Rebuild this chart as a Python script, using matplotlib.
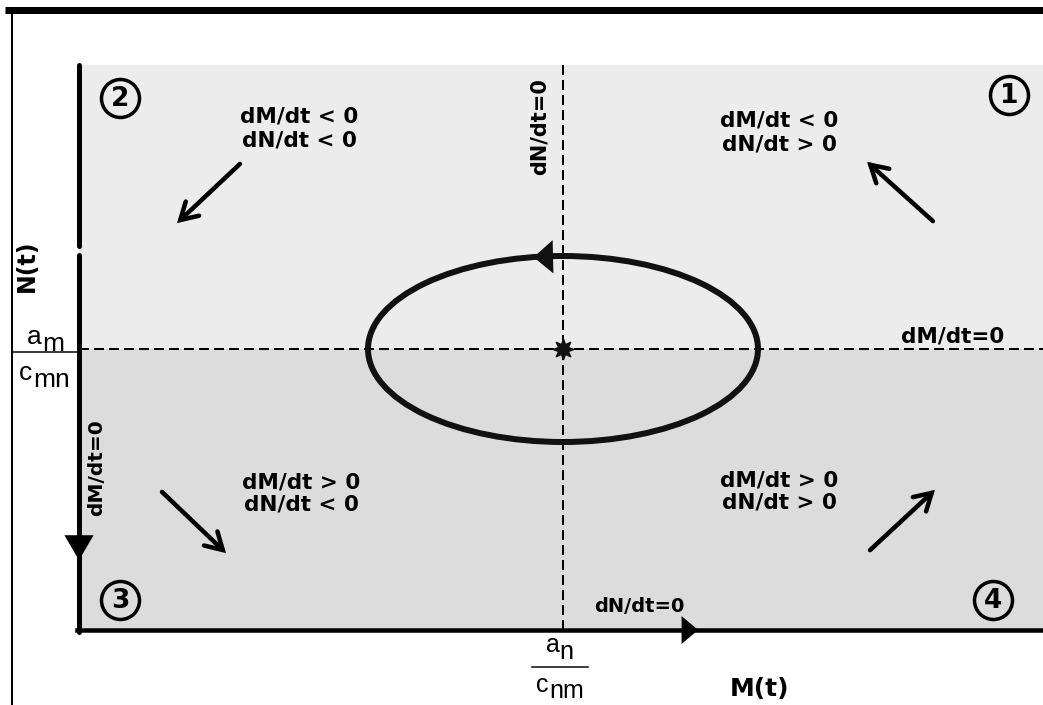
import numpy as np
import matplotlib
matplotlib.use("Agg")
import matplotlib.pyplot as plt
from matplotlib.patches import Ellipse, Rectangle, FancyArrowPatch

# ---------------- diagram values (image coordinates, px) ----------------
W, H = 1043, 705
plot_left, plot_top, plot_right, plot_bottom = 79, 65, 1043, 630
eq_M, eq_N = 563, 349                  # equilibrium (a_n/c_nm , a_m/c_mn)
orbit_rx, orbit_ry = 195, 93           # closed orbit half-axes

quad_ids = ["①", "②", "③", "④"]
quad_id_x = [1009, 120, 120, 993]
quad_id_y = [95, 98, 600, 600]

quad_dM = ["dM/dt < 0", "dM/dt < 0", "dM/dt > 0", "dM/dt > 0"]
quad_dN = ["dN/dt > 0", "dN/dt < 0", "dN/dt < 0", "dN/dt > 0"]
quad_text_x = [779, 299, 301, 779]
quad_line1_y = [120, 117, 482, 480]
quad_line2_y = [144, 140, 505, 503]

flow_tail = [(935, 223), (242, 162), (160, 490), (868, 552)]
flow_tip = [(865, 160), (175, 225), (228, 555), (937, 488)]

fig = plt.figure(figsize=(W / 100, H / 100), dpi=100)
ax = fig.add_axes([0, 0, 1, 1])
ax.set_xlim(0, W)
ax.set_ylim(H, 0)
ax.axis("off")

PX = 0.72  # points per pixel at dpi 100
bold = dict(family="DejaVu Sans", fontweight="bold", color="black")
reg = dict(family="Liberation Sans", color="black")

# frame of the scan
ax.plot([5, W], [10, 10], color="black", lw=7 * PX, solid_capstyle="butt", zorder=5)
ax.plot([12, 12], [13, H], color="black", lw=2 * PX, zorder=5)

# fraction labels (drawn below the shaded region so they get cut by it)
ax.text(27, 337, "a", fontsize=19, va="center", ha="left", zorder=1, **reg)
ax.text(42, 344, "m", fontsize=19, va="center", ha="left", zorder=1, **reg)
ax.plot([13, 78], [352, 352], color="black", lw=1.5 * PX, zorder=1)
ax.text(19, 373, "c", fontsize=19, va="center", ha="left", zorder=1, **reg)
ax.text(33, 380, "mn", fontsize=19, va="center", ha="left", zorder=1, **reg)

ax.text(546, 645, "a", fontsize=18, va="center", ha="left", zorder=1, **reg)
ax.text(559, 652, "n", fontsize=18, va="center", ha="left", zorder=1, **reg)
ax.plot([532, 588], [667, 667], color="black", lw=1.5 * PX, zorder=1)
ax.text(536, 685, "c", fontsize=18, va="center", ha="left", zorder=1, **reg)
ax.text(549, 691, "nm", fontsize=18, va="center", ha="left", zorder=1, **reg)

# shaded (speckled) phase-plane area
ax.add_patch(Rectangle((plot_left, plot_top), plot_right - plot_left, eq_N - plot_top,
                       facecolor="#ececec", edgecolor="none", zorder=2))
ax.add_patch(Rectangle((plot_left, eq_N), plot_right - plot_left, plot_bottom - eq_N,
                       facecolor="#dcdcdc", edgecolor="none", zorder=2))

# nullclines (dashed)
ax.plot([plot_left, plot_right], [eq_N, eq_N], color="black", lw=2 * PX,
        dashes=(5, 2.5), zorder=3)
ax.plot([eq_M, eq_M], [plot_top, plot_bottom], color="black", lw=2 * PX,
        dashes=(5, 2.5), zorder=3)

# axes (thick) with the little scan break on the N axis
ax.plot([plot_left, plot_left], [plot_top, 246], color="black", lw=5 * PX,
        solid_capstyle="round", zorder=4)
ax.plot([plot_left, plot_left], [255, plot_bottom + 2], color="black", lw=5 * PX,
        solid_capstyle="round", zorder=4)
ax.plot([plot_left - 2, plot_right], [plot_bottom, plot_bottom], color="black",
        lw=4.5 * PX, zorder=4)

# axis arrowheads
ax.add_patch(FancyArrowPatch((plot_left, 530), (plot_left, 563),
                             arrowstyle="-|>,head_length=18,head_width=10.5",
                             mutation_scale=1, color="black", lw=0, zorder=6))
ax.add_patch(FancyArrowPatch((675, plot_bottom), (701, plot_bottom),
                             arrowstyle="-|>,head_length=12,head_width=10",
                             mutation_scale=1, color="black", lw=0, zorder=6))

# closed orbit
ax.add_patch(Ellipse((eq_M, eq_N), 2 * orbit_rx, 2 * orbit_ry, fill=False,
                     edgecolor="#111111", lw=6 * PX, zorder=5))
# direction arrow on the orbit (leftwards at the top)
t0, t1 = np.deg2rad(86), np.deg2rad(99.5)
p0 = (eq_M + orbit_rx * np.cos(t0), eq_N - orbit_ry * np.sin(t0))
p1 = (eq_M + orbit_rx * np.cos(t1), eq_N - orbit_ry * np.sin(t1))
ax.add_patch(FancyArrowPatch(p0, p1, arrowstyle="-|>,head_length=14,head_width=12",
                             mutation_scale=1, color="#111111", lw=0, zorder=6))

# equilibrium star
ax.plot([eq_M], [eq_N], marker=(8, 1, 0), markersize=15, color="#111111", zorder=6)

# quadrant numbers
for s, x, y in zip(quad_ids, quad_id_x, quad_id_y):
    ax.plot([x], [y], marker="o", markersize=38 * PX, mfc="none", mec="black",
            mew=3.5 * PX, zorder=6)
    ax.text(x, y + 1, s.translate(str.maketrans("①②③④", "1234")), fontsize=19,
            ha="center", va="center", zorder=6, **bold)

# quadrant sign labels
for a, b, x, y1, y2 in zip(quad_dM, quad_dN, quad_text_x, quad_line1_y, quad_line2_y):
    ax.text(x, y1, a, fontsize=15.5, ha="center", va="center", zorder=6, **bold)
    ax.text(x, y2, b, fontsize=15.5, ha="center", va="center", zorder=6, **bold)

# flow direction arrows
for tl, tp in zip(flow_tail, flow_tip):
    ax.add_patch(FancyArrowPatch(tl, tp, arrowstyle="->,head_length=12,head_width=7",
                                 mutation_scale=1, color="black", lw=4.5 * PX,
                                 capstyle="round", joinstyle="miter", zorder=6))

# nullcline labels
ax.text(540, 127, "dN/dt=0", fontsize=15, rotation=90, ha="center", va="center",
        zorder=6, **bold)
ax.text(953, 337, "dM/dt=0", fontsize=15.5, ha="center", va="center", zorder=6, **bold)
ax.text(97, 468, "dM/dt=0", fontsize=14.5, rotation=90, ha="center", va="center",
        zorder=6, **bold)
ax.text(639, 606, "dN/dt=0", fontsize=14, ha="center", va="center", zorder=6, **bold)

# axis titles
ax.text(760, 689, "M(t)", fontsize=18, ha="center", va="center", zorder=6, **bold)
ax.text(27, 266, "N(t)", fontsize=17, rotation=90, ha="center", va="center",
        zorder=4, **bold)

fig.savefig("out.png", dpi=100, facecolor="white")
